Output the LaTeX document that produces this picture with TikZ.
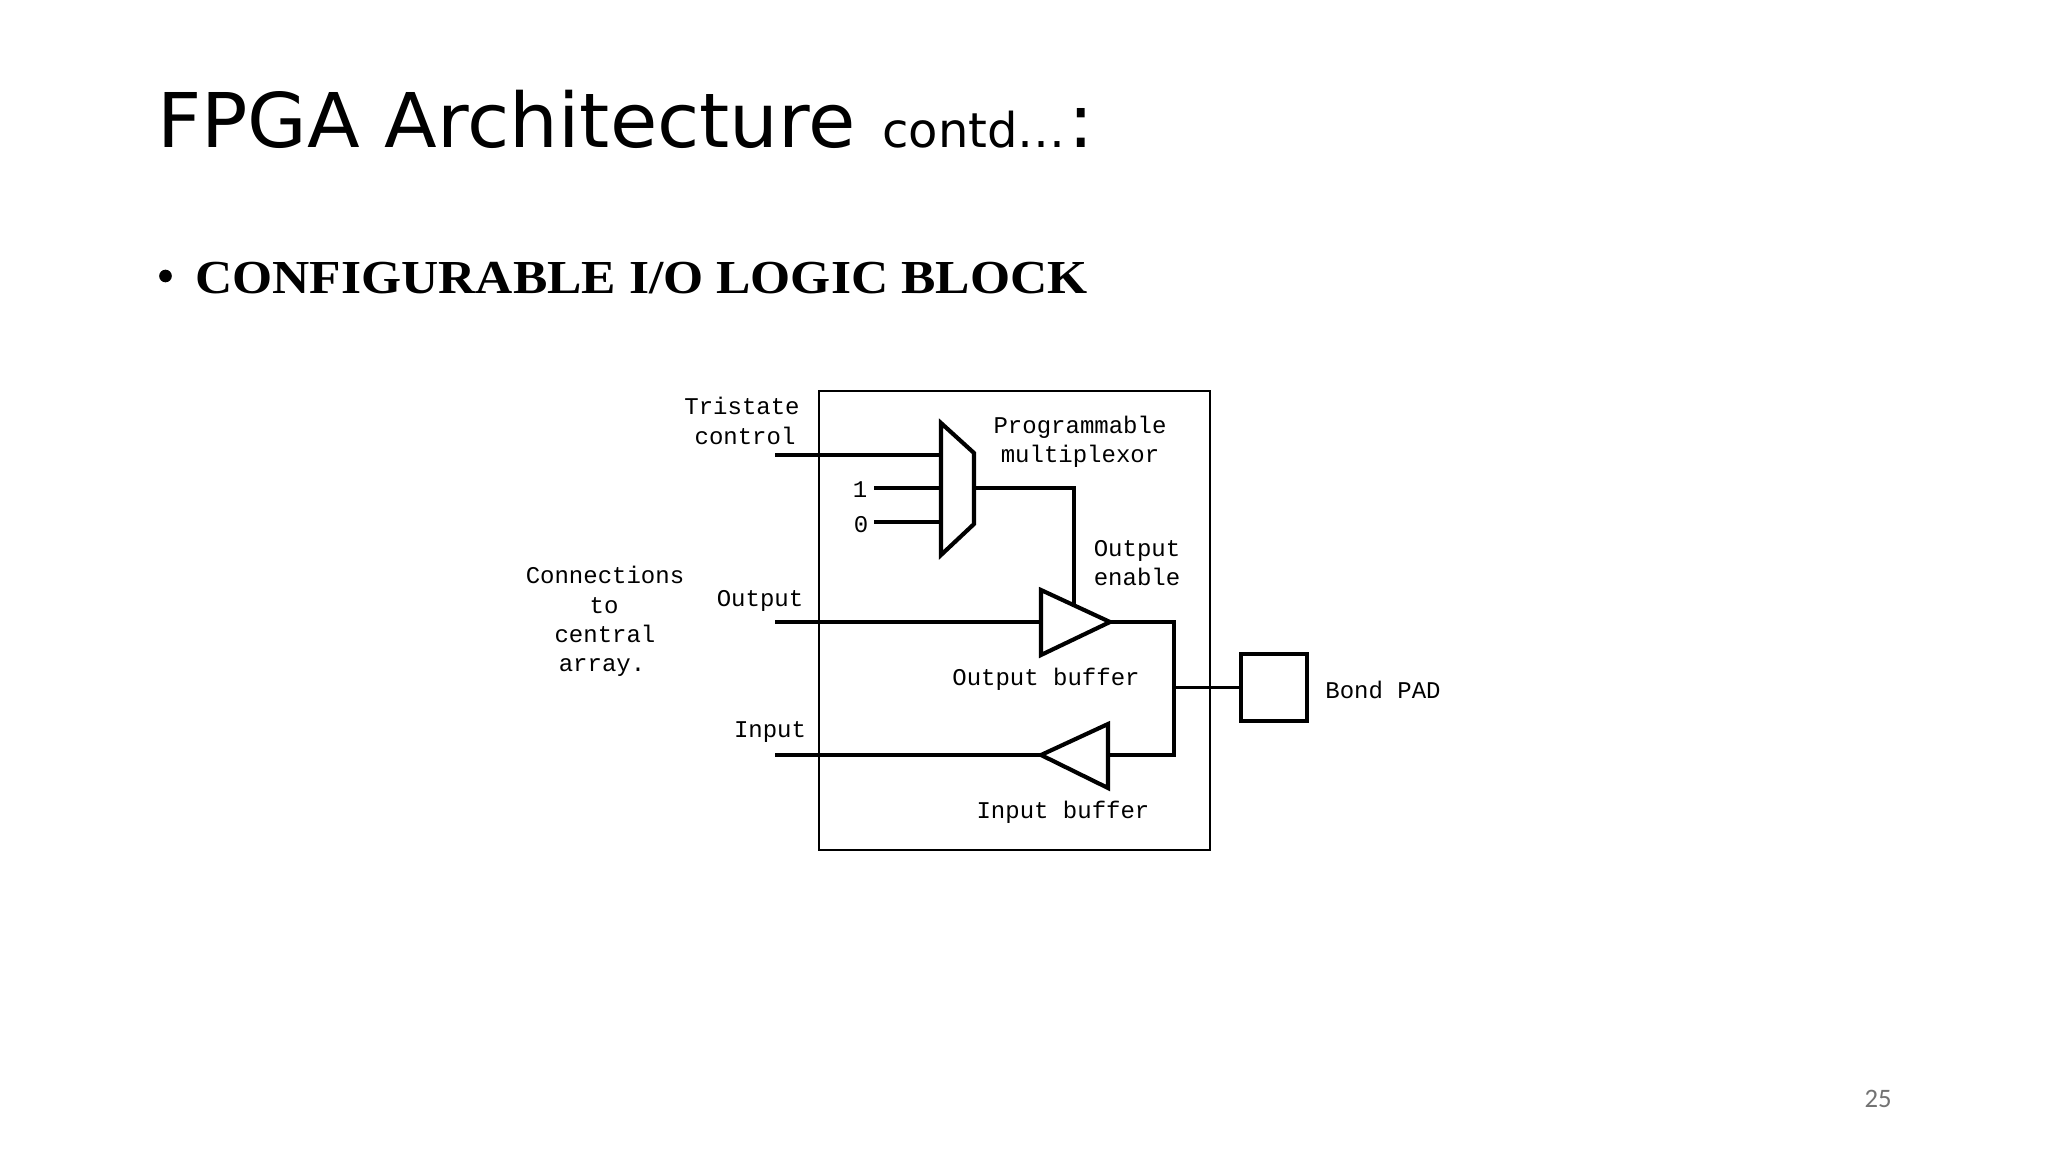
\documentclass[tikz,border=0pt]{standalone}
\usepackage{fontspec}
\usepackage{graphicx}
\setmainfont{Liberation Serif}
\newfontfamily\titlefont{DejaVu Sans}
\newfontfamily\labelfont{Liberation Mono}
\newfontfamily\pagefont{Carlito}
\tikzset{
  wire/.style={line width=3.1pt,line cap=butt,line join=miter},
  thinwire/.style={line width=2.5pt},
  part/.style={line width=3.1pt,line join=miter,fill=white},
  lab/.style={anchor=base,inner sep=0pt,font=\labelfont\fontsize{18}{20}\selectfont},
}
\begin{document}
\begin{tikzpicture}[x=0.75pt,y=-0.75pt]
\useasboundingbox[fill=white] (0,0) rectangle (2048,1152);
% slide text
\node[anchor=base west,inner sep=0pt,font=\titlefont\fontsize{56.6}{60}\selectfont] (title) at (157,147) {\scalebox{1.02}[1]{FPGA Architecture}};
\node[anchor=base west,inner sep=0pt,font=\titlefont\fontsize{36}{40}\selectfont] (contd) at (882,147) {contd…};
\node[anchor=base west,inner sep=0pt,font=\titlefont\fontsize{56.6}{60}\selectfont] (colon) at (1068,147) {:};
\node[circle,fill=black,inner sep=0pt,minimum size=9.5pt] (bullet) at (165.5,276) {};
\node[anchor=base west,inner sep=0pt,font=\bfseries\fontsize{35.5}{40}\selectfont] (heading) at (195,293) {\scalebox{1.089}[1]{CONFIGURABLE I/O LOGIC BLOCK}};
\node[anchor=base,inner sep=0pt,text=black!55,font=\pagefont\fontsize{20}{22}\selectfont] (page) at (1878,1107) {25};
% enclosing block
\node[draw,line width=1.5pt,inner sep=0pt,minimum width=293.5pt,minimum height=344pt,anchor=north west] (block) at (818,390) {};
% free ends and junctions
\coordinate (tsin) at (775,455);
\coordinate (tsmux) at (941,455);
\coordinate (onein) at (874,488);
\coordinate (onemux) at (941,488);
\coordinate (zeroin) at (874,522);
\coordinate (zeromux) at (941,522);
\coordinate (muxout) at (974,488);
\coordinate (muxcorner) at (1074,488);
\coordinate (oebuf) at (1074,605);
\coordinate (outin) at (775,622);
\coordinate (obufin) at (1041,622);
\coordinate (obufout) at (1110,622);
\coordinate (outcorner) at (1174,622);
\coordinate (incorner) at (1174,755);
\coordinate (ibufin) at (1108,755);
\coordinate (ibufout) at (1041,755);
\coordinate (inend) at (775,755);
\coordinate (tap) at (1174,687.5);
% pad
\node[draw,line width=3.1pt,inner sep=0pt,minimum width=49.5pt,minimum height=50pt] (pad) at (1274,687.5) {};
% wires
\draw[wire] (tsin) -- (tsmux);
\draw[thinwire] (onein) -- (onemux);
\draw[thinwire] (zeroin) -- (zeromux);
\draw[thinwire] (muxout) -- (muxcorner) -- (oebuf);
\draw[wire] (outin) -- (obufin);
\draw[wire] (obufout) -- (outcorner) -- (incorner) -- (ibufin);
\draw[wire] (ibufout) -- (inend);
\draw[thinwire] (tap) -- (pad.west);
% multiplexor
\draw[part] (tsmux |- 0,423) -- (muxout |- 0,453) -- (muxout |- 0,524) -- (tsmux |- 0,555) -- cycle;
% buffers
\draw[part] (obufin |- 0,590) -- (obufout) -- (obufin |- 0,655) -- cycle;
\draw[part] (ibufin |- 0,724) -- (ibufout) -- (ibufin |- 0,788) -- cycle;
% labels
\node[lab] (l1) at (742,414.5) {Tristate};
\node[lab] (l2) at (745,444.5) {control};
\node[lab] (l3) at (1080,433.5) {Programmable};
\node[lab] (l4) at (1080,462.5) {multiplexor};
\node[lab] (l5) at (860,497.5) {1};
\node[lab] (l6) at (861,532.5) {0};
\node[lab] (l7) at (1137,556.5) {Output};
\node[lab] (l8) at (1137,585.5) {enable};
\node[lab] (l9) at (605,583) {Connections};
\node[lab] (l10) at (604,613) {to};
\node[lab] (l11) at (605,642) {central};
\node[lab] (l12) at (602,671) {array.};
\node[lab] (l13) at (760,606.5) {Output};
\node[lab] (l14) at (770,737.5) {Input};
\node[lab] (l15) at (1046,685.5) {Output buffer};
\node[lab] (l16) at (1063,818.5) {Input buffer};
\node[lab] (l17) at (1383,698) {Bond PAD};
\end{tikzpicture}
\end{document}
